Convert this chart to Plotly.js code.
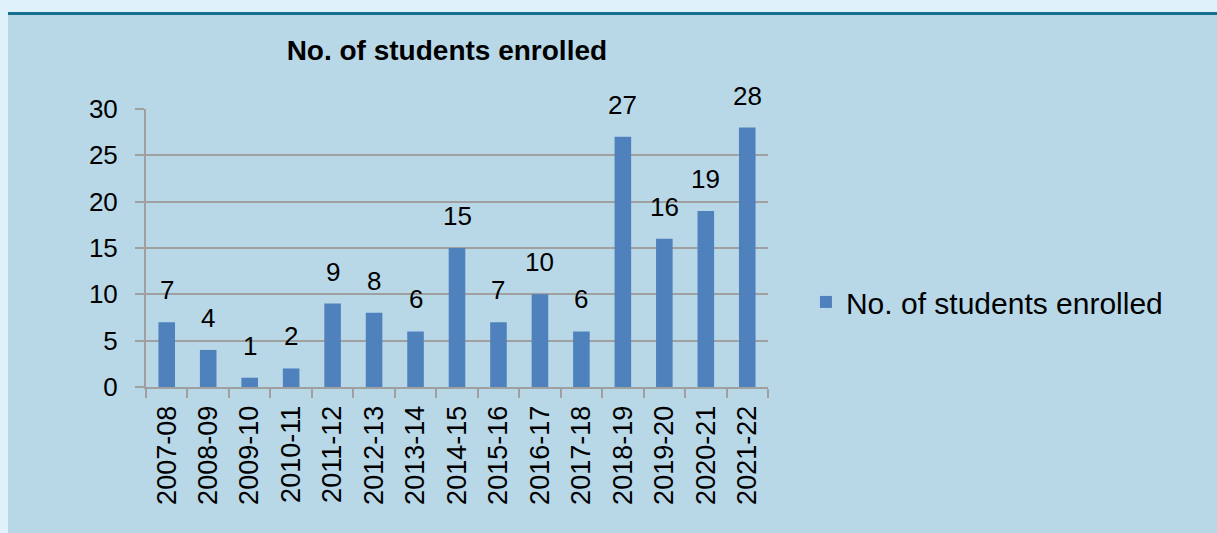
<!DOCTYPE html>
<html>
<head>
<meta charset="utf-8">
<script src="https://cdn.plot.ly/plotly-3.0.1.min.js"></script>
<style>
  html, body { margin: 0; padding: 0; background: #dff1fa; width: 1217px; height: 533px; overflow: hidden; }
  #frame { position: absolute; left: 8px; top: 12px; width: 1209px; height: 521px; border-top: 3px solid #17708f; background: #b8d8e8; box-sizing: border-box; }
  #chart { width: 1209px; height: 518px; }
</style>
</head>
<body>
<div id="frame"><div id="chart"></div></div>
<script>
const years = ["2007-08","2008-09","2009-10","2010-11","2011-12","2012-13","2013-14","2014-15","2015-16","2016-17","2017-18","2018-19","2019-20","2020-21","2021-22"];
const enrolled = [7,4,1,2,9,8,6,15,7,10,6,27,16,19,28];
const seriesName = "No. of students enrolled";
const chartTitle = "No. of students enrolled";
const yTicks = [0,5,10,15,20,25,30];

const FONT = "Liberation Sans, Arial, sans-serif";

const trace = {
  type: "bar",
  x: years,
  y: enrolled,
  name: seriesName,
  marker: { color: "#4f81bd" },
  showlegend: true,
  hoverinfo: "x+y"
};

const labels = years.map((c, i) => ({
  x: c, y: enrolled[i], xref: "x", yref: "y",
  text: String(enrolled[i]), showarrow: false,
  yanchor: "bottom", yshift: 15,
  font: { family: FONT, size: 26, color: "#000" }
}));

const layout = {
  width: 1209, height: 518,
  margin: { l: 138, r: 449, t: 94, b: 146 },
  paper_bgcolor: "rgba(0,0,0,0)",
  plot_bgcolor: "rgba(0,0,0,0)",
  font: { family: FONT, size: 26, color: "#000" },
  title: {
    text: "<b>" + chartTitle + "</b>",
    font: { family: FONT, size: 28, color: "#000" },
    x: 0.363, xref: "container", xanchor: "center",
    y: 0.932, yref: "container", yanchor: "middle"
  },
  bargap: 0.6,
  xaxis: {
    type: "category",
    tickangle: -90,
    showline: true, linecolor: "#a0a0a0", linewidth: 2,
    ticks: "outside", tickson: "boundaries", ticklen: 9, tickwidth: 2, tickcolor: "#a0a0a0",
    showgrid: false,
    tickfont: { family: FONT, size: 27, color: "#000" },
    ticklabelstandoff: 6,
    fixedrange: true
  },
  yaxis: {
    range: [0, 30],
    tickvals: yTicks,
    showline: true, linecolor: "#a0a0a0", linewidth: 2,
    ticks: "outside", ticklen: 9, tickwidth: 2, tickcolor: "#a0a0a0",
    showgrid: true, gridcolor: "#a0a0a0", gridwidth: 2,
    zeroline: false,
    tickfont: { family: FONT, size: 26, color: "#000" },
    ticklabelstandoff: 12,
    fixedrange: true
  },
  showlegend: true,
  legend: {
    x: 1.061, xanchor: "left", y: 0.306, yanchor: "middle",
    bgcolor: "rgba(0,0,0,0)",
    font: { family: FONT, size: 30, color: "#000" }
  },
  annotations: labels
};

Plotly.newPlot("chart", [trace], layout, { displayModeBar: false, staticPlot: true });
</script>
</body>
</html>
